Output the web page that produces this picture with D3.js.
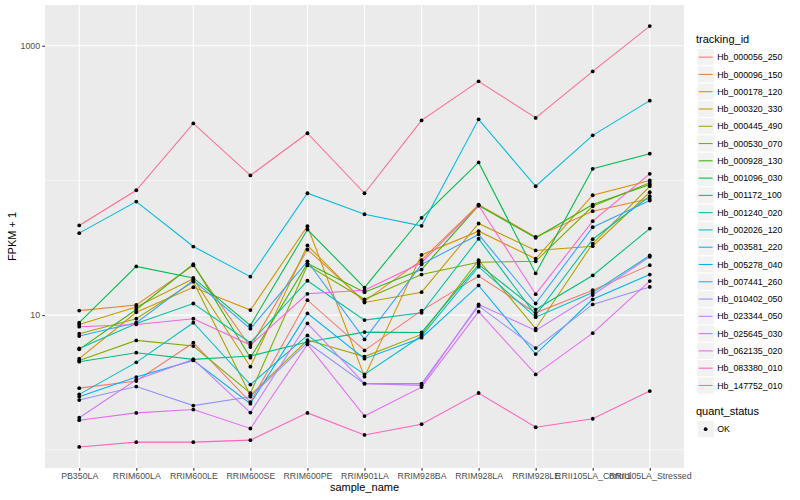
<!DOCTYPE html>
<html>
<head>
<title>FPKM by sample</title>
<script src="https://d3js.org/d3.v7.min.js"></script>
<style>
    body { margin: 0; background: #fff; }
    text { font-family: "Liberation Sans", Arial, sans-serif; }
</style>
</head>
<body>
<div class="chart"></div>
<script>
let samples = ["PB350LA", "RRIM600LA", "RRIM600LE", "RRIM600SE", "RRIM600PE", "RRIM901LA",
    "RRIM928BA", "RRIM928LA", "RRIM928LE", "RRII105LA_Control", "RRII105LA_Stressed"];

let trackingIds = ["Hb_000056_250", "Hb_000096_150", "Hb_000178_120", "Hb_000320_330", "Hb_000445_490",
    "Hb_000530_070", "Hb_000928_130", "Hb_001096_030", "Hb_001172_100", "Hb_001240_020",
    "Hb_002026_120", "Hb_003581_220", "Hb_005278_040", "Hb_007441_260", "Hb_010402_050",
    "Hb_023344_050", "Hb_025645_030", "Hb_062135_020", "Hb_083380_010", "Hb_147752_010"];

// FPKM + 1, one row per tracking_id, one column per sample
let fpkm = [
    [2.87, 3.24, 6.24, 2.26, 12.9, 5.47, 10.8, 19.5, 10.4, 15.3, 23.5],
    [10.8, 11.9, 23.4, 5.79, 30.7, 12.7, 25.6, 66.2, 38.1, 59.1, 73.0],
    [4.75, 10.5, 16.1, 10.9, 45.7, 3.49, 28.0, 42.0, 26.2, 77.6, 100],
    [8.53, 11.5, 18.6, 4.14, 32.9, 12.4, 14.8, 47.9, 30.2, 32.5, 81.7],
    [7.28, 9.40, 17.7, 2.54, 6.53, 4.92, 7.19, 25.6, 7.93, 34.0, 90.5],
    [4.61, 6.49, 5.89, 2.63, 23.4, 13.1, 20.0, 24.7, 25.1, 64.3, 95.9],
    [5.57, 11.0, 23.9, 4.83, 24.2, 14.8, 21.8, 65.1, 37.5, 66.2, 93.2],
    [8.78, 23.0, 18.9, 8.39, 43.2, 16.0, 52.8, 136, 20.4, 122, 158],
    [4.51, 5.26, 4.69, 4.97, 6.31, 7.48, 7.44, 23.8, 11.0, 19.7, 43.9],
    [5.66, 8.68, 12.2, 6.24, 18.0, 9.18, 10.4, 36.9, 10.0, 36.6, 76.3],
    [2.58, 4.46, 8.78, 3.05, 7.07, 3.63, 6.99, 22.9, 9.66, 14.7, 27.7],
    [40.6, 69.7, 32.3, 19.3, 80.3, 56.1, 46.0, 284, 90.5, 216, 391],
    [2.48, 3.47, 4.61, 2.20, 10.3, 4.75, 6.80, 16.6, 5.14, 13.1, 20.0],
    [6.99, 8.78, 18.1, 7.93, 25.1, 6.60, 23.8, 39.7, 12.2, 44.9, 70.9],
    [2.34, 2.95, 2.13, 2.48, 6.24, 3.10, 3.10, 11.7, 5.69, 12.0, 16.2],
    [1.73, 3.31, 4.69, 1.89, 8.68, 3.10, 3.01, 12.0, 7.70, 14.1, 27.1],
    [1.66, 1.88, 1.99, 1.44, 6.06, 1.78, 2.92, 10.6, 3.63, 7.35, 17.9],
    [8.20, 8.53, 9.40, 5.99, 14.4, 15.3, 24.5, 65.1, 14.3, 49.8, 112],
    [1.05, 1.14, 1.14, 1.18, 1.88, 1.29, 1.55, 2.64, 1.47, 1.70, 2.73],
    [46.3, 84.5, 265, 109, 224, 80.3, 279, 544, 291, 645, 1400]
];

let quantStatus = ["OK"];
let yBreaks = [10, 1000];
let yMinorBreaks = [1, 100];

// ggplot hue palette for 20 levels
let palette = ["#F8766D", "#EA8331", "#D89000", "#C09B00", "#A3A500", "#7CAE00", "#39B600", "#00BB4E",
    "#00BF7D", "#00C1A3", "#00BFC4", "#00BAE0", "#00B0F6", "#35A2FF", "#9590FF", "#C77CFF",
    "#E76BF3", "#FA62DB", "#FF62BC", "#FF6C91"];

let width = 800;
let height = 500;
let panel = {left: 45, right: 684, top: 5, bottom: 468};

let svg = d3.select(".chart")
    .append("svg")
    .attr("width", width)
    .attr("height", height);

let x = d3.scalePoint()
    .domain(samples)
    .range([panel.left, panel.right])
    .padding(0.6);

let logs = fpkm.flat().map(Math.log10);
let lo = d3.min(logs), hi = d3.max(logs);
let pad = (hi - lo) * 0.05;
let y = d3.scaleLog()
    .domain([Math.pow(10, lo - pad), Math.pow(10, hi + pad)])
    .range([panel.bottom, panel.top]);

let color = d3.scaleOrdinal().domain(trackingIds).range(palette);

// panel background and grid
svg.append("rect")
    .attr("x", panel.left)
    .attr("y", panel.top)
    .attr("width", panel.right - panel.left)
    .attr("height", panel.bottom - panel.top)
    .style("fill", "#EBEBEB");

svg.append("g").selectAll("line")
    .data(yMinorBreaks)
    .enter().append("line")
    .attr("x1", panel.left).attr("x2", panel.right)
    .attr("y1", d => y(d)).attr("y2", d => y(d))
    .style("stroke", "#fff").style("stroke-width", 0.53);

svg.append("g").selectAll("line")
    .data(yBreaks)
    .enter().append("line")
    .attr("x1", panel.left).attr("x2", panel.right)
    .attr("y1", d => y(d)).attr("y2", d => y(d))
    .style("stroke", "#fff").style("stroke-width", 1.07);

svg.append("g").selectAll("line")
    .data(samples)
    .enter().append("line")
    .attr("x1", d => x(d)).attr("x2", d => x(d))
    .attr("y1", panel.top).attr("y2", panel.bottom)
    .style("stroke", "#fff").style("stroke-width", 1.07);

// lines
let line = d3.line()
    .x((d, i) => x(samples[i]))
    .y(d => y(d));

svg.append("g").selectAll("path")
    .data(fpkm)
    .enter().append("path")
    .attr("d", d => line(d))
    .style("fill", "none")
    .style("stroke", (d, i) => color(trackingIds[i]))
    .style("stroke-width", 1.07);

// points
let pts = [];
fpkm.forEach(row => row.forEach((v, i) => pts.push({sample: samples[i], value: v})));

svg.append("g").selectAll("circle")
    .data(pts)
    .enter().append("circle")
    .attr("cx", d => x(d.sample))
    .attr("cy", d => y(d.value))
    .attr("r", 1.9)
    .style("fill", "black");

// axes
let yAxis = svg.append("g")
    .attr("transform", "translate(" + panel.left + ",0)")
    .call(d3.axisLeft(y).tickValues(yBreaks).tickFormat(d3.format("d")).tickSize(2.75).tickPadding(2.2));

let xAxis = svg.append("g")
    .attr("transform", "translate(0," + panel.bottom + ")")
    .call(d3.axisBottom(x).tickSize(2.75).tickPadding(2.2));

[xAxis, yAxis].forEach(function (a) {
    a.select(".domain").remove();
    a.selectAll(".tick line").style("stroke", "#333333").style("stroke-width", 1.07);
    a.selectAll(".tick text")
        .style("fill", "#4D4D4D")
        .style("font-size", "8.8px")
        .style("font-family", "'Liberation Sans', Arial, sans-serif");
});

svg.append("text")
    .attr("x", (panel.left + panel.right) / 2)
    .attr("y", 491)
    .style("text-anchor", "middle")
    .style("font-size", "11px")
    .text("sample_name");

svg.append("text")
    .attr("transform", "translate(16," + (panel.top + panel.bottom) / 2 + ") rotate(-90)")
    .style("text-anchor", "middle")
    .style("font-size", "11px")
    .text("FPKM + 1");

// legend: tracking_id
let keySize = 17.28;
let legendX = 697;
let legendTop = 48.5;

svg.append("text")
    .attr("x", 696)
    .attr("y", 43)
    .style("font-size", "11px")
    .text("tracking_id");

let keys = svg.append("g").selectAll("g")
    .data(trackingIds)
    .enter().append("g")
    .attr("transform", (d, i) => "translate(" + legendX + "," + (legendTop + i * keySize) + ")");

keys.append("rect")
    .attr("width", keySize)
    .attr("height", keySize)
    .style("fill", "#F2F2F2")
    .style("stroke", "#fff")
    .style("stroke-width", 1);

keys.append("line")
    .attr("x1", 1.7).attr("x2", keySize - 1.7)
    .attr("y1", keySize / 2).attr("y2", keySize / 2)
    .style("stroke", d => color(d))
    .style("stroke-width", 1.07);

keys.append("text")
    .attr("x", keySize + 3)
    .attr("y", keySize / 2 + 3.1)
    .style("font-size", "8.8px")
    .text(d => d);

// legend: quant_status
svg.append("text")
    .attr("x", 696)
    .attr("y", 415)
    .style("font-size", "11px")
    .text("quant_status");

let qkeys = svg.append("g").selectAll("g")
    .data(quantStatus)
    .enter().append("g")
    .attr("transform", (d, i) => "translate(" + legendX + "," + (420.5 + i * keySize) + ")");

qkeys.append("rect")
    .attr("width", keySize)
    .attr("height", keySize)
    .style("fill", "#F2F2F2")
    .style("stroke", "#fff");

qkeys.append("circle")
    .attr("cx", keySize / 2)
    .attr("cy", keySize / 2)
    .attr("r", 1.9)
    .style("fill", "black");

qkeys.append("text")
    .attr("x", keySize + 3)
    .attr("y", keySize / 2 + 3.1)
    .style("font-size", "8.8px")
    .text(d => d);
</script>
</body>
</html>
